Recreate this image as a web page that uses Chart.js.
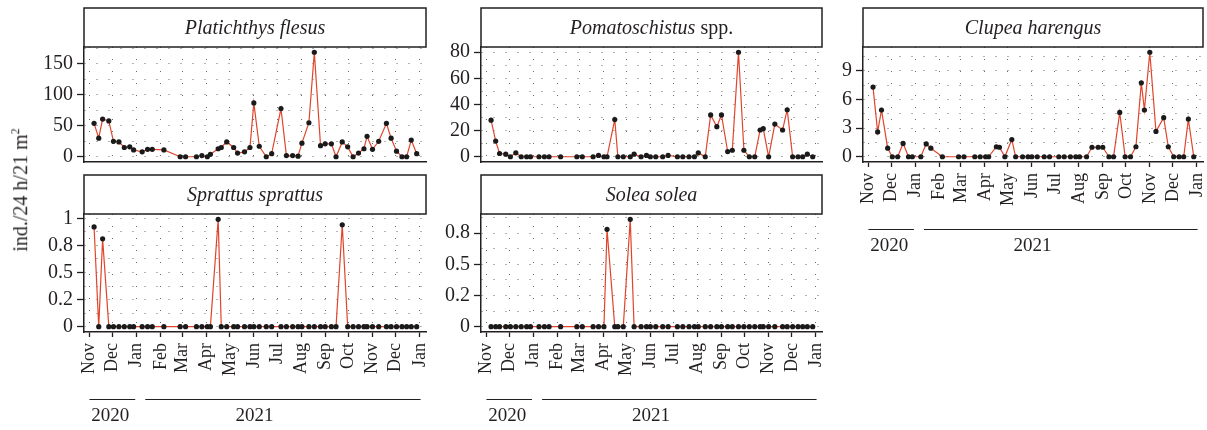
<!DOCTYPE html>
<html>
<head>
<meta charset="utf-8">
<script src="https://cdn.jsdelivr.net/npm/chart.js@4.4.1/dist/chart.umd.min.js"></script>
<style>
html,body{margin:0;padding:0;background:#fff;}
#wrap{position:relative;width:1207px;height:430px;overflow:hidden;background:#fff;}
#wrap canvas{position:absolute;left:0;top:0;}
#ylab{position:absolute;left:20px;top:190px;transform:translate(-50%,-50%) rotate(-90deg);
  font-family:"Liberation Serif","Times New Roman",serif;font-size:20px;color:#231f20;white-space:nowrap;}
#ylab sup{font-size:12px;}
</style>
</head>
<body>
<div id="wrap">
<canvas id="c1" width="1207" height="430"></canvas>
<canvas id="c2" width="1207" height="430"></canvas>
<canvas id="c3" width="1207" height="430"></canvas>
<canvas id="c4" width="1207" height="430"></canvas>
<canvas id="c5" width="1207" height="430"></canvas>
<div id="ylab">ind./24 h/21 m<sup>2</sup></div>
</div>
<script>
// ---------- data ----------
const sampleDates = [
  '2020-11-07','2020-11-13','2020-11-18','2020-11-26','2020-12-02','2020-12-09','2020-12-16','2020-12-23',
  '2020-12-28','2021-01-08','2021-01-15','2021-01-21','2021-02-05','2021-02-26','2021-03-05','2021-03-19',
  '2021-03-26','2021-04-02','2021-04-06','2021-04-16','2021-04-20','2021-04-27','2021-05-06','2021-05-11',
  '2021-05-20','2021-05-27','2021-06-01','2021-06-08','2021-06-17','2021-06-24','2021-07-06','2021-07-13',
  '2021-07-21','2021-07-28','2021-08-02','2021-08-11','2021-08-18','2021-08-26','2021-09-01','2021-09-09',
  '2021-09-15','2021-09-23','2021-09-30','2021-10-07','2021-10-14','2021-10-21','2021-10-25','2021-11-01',
  '2021-11-09','2021-11-19','2021-11-25','2021-12-02','2021-12-09','2021-12-15','2021-12-21','2021-12-28'
];
const platichthys = [54,30,61,58,25,24,15,16,11,8,12,12,11,0,0,0,2,0,4,13,15,24,15,6,8,15,87,17,0,5,78,2,2,1,22,55,169,18,21,21,0,24,16,0,6,13,33,12,25,54,30,9,0,0,27,5];
const pomatoschistus = [28,12,2.5,2,0,3,0,0,0,0,0,0,0,0,0,0,1,0,0,28.5,0,0,0,2,0,1,0,0,0,1,0,0,0,0,3,0,32,23,32,4,5,80,5,0,0,20.5,21.5,0,25,20.5,36,0,0,0,2,0];
const clupea = [7.3,2.6,4.9,0.9,0,0,1.4,0,0,0,1.35,0.9,0,0,0,0,0,0,0,1.05,1.0,0,1.8,0,0,0,0,0,0,0,0,0,0,0,0,0,1,1,1,0,0,4.65,0,0,1.05,7.75,4.9,10.95,2.65,4.1,1.05,0,0,0,3.95,0];
const sprattus = [0.92,0,0.81,0,0,0,0,0,0,0,0,0,0,0,0,0,0,0,0,0.99,0,0,0,0,0,0,0,0,0,0,0,0,0,0,0,0,0,0,0,0,0,0.94,0,0,0,0,0,0,0,0,0,0,0,0,0,0];
const solea = [0,0,0,0,0,0,0,0,0,0,0,0,0,0,0,0,0,0,0.78,0,0,0,0.86,0,0,0,0,0,0,0,0,0,0,0,0,0,0,0,0,0,0,0,0,0,0,0,0,0,0,0,0,0,0,0,0,0];

const monthTickDates = ['2020-11-01','2020-12-01','2021-01-01','2021-02-01','2021-03-01','2021-04-01','2021-05-01',
  '2021-06-01','2021-07-01','2021-08-01','2021-09-01','2021-10-01','2021-11-01','2021-12-01','2022-01-01'];
const monthTickLabels = ['Nov','Dec','Jan','Feb','Mar','Apr','May','Jun','Jul','Aug','Sep','Oct','Nov','Dec','Jan'];

const yTicksPlat = [0,50,100,150];       const yLabelsPlat = ['0','50','100','150'];
const yTicksPoma = [0,20,40,60,80];      const yLabelsPoma = ['0','20','40','60','80'];
const yTicksClup = [0,3,6,9];            const yLabelsClup = ['0','3','6','9'];
const yTicksSpra = [0,0.25,0.5,0.75,1];  const yLabelsSpra = ['0','0.2','0.5','0.8','1'];
const yTicksSole = [0,0.25,0.5,0.75];    const yLabelsSole = ['0','0.2','0.5','0.8'];

const yearLabels = ['2020','2021'];
const yearLabelDates = ['2020-11-28','2021-06-02'];
const yearLineStarts = ['2020-11-01','2021-01-12'];
const yearLineEnds = ['2020-12-30','2022-01-02'];

// ---------- helpers ----------
const DAY0 = Date.UTC(2020, 10, 1);
function toDay(s){ const p = s.split('-').map(Number); return (Date.UTC(p[0], p[1]-1, p[2]) - DAY0) / 86400000; }
const FONT = '"Liberation Serif", "Times New Roman", serif';
const INK = '#231f20';
const GRID = '#6a6a6a';
const X_MIN = -7, X_MAX = 434;

const stripPlugin = {
  id: 'strip',
  afterDraw(chart, args, opts) {
    const ctx = chart.ctx, a = chart.chartArea, h = 39;
    ctx.save();
    ctx.fillStyle = '#fff';
    ctx.fillRect(a.left, a.top - h, a.right - a.left, h);
    ctx.strokeStyle = INK; ctx.lineWidth = 1.5;
    ctx.strokeRect(a.left, a.top - h, a.right - a.left, h);
    const segs = opts.segments || [];
    const widths = []; let total = 0;
    segs.forEach(s => { ctx.font = (s[1] ? 'italic ' : '') + '20px ' + FONT; const w = ctx.measureText(s[0]).width; widths.push(w); total += w; });
    let x = (a.left + a.right) / 2 - total / 2;
    ctx.fillStyle = INK; ctx.textAlign = 'left'; ctx.textBaseline = 'middle';
    segs.forEach((s, i) => { ctx.font = (s[1] ? 'italic ' : '') + '20px ' + FONT; ctx.fillText(s[0], x, a.top - h / 2 + 1); x += widths[i]; });
    ctx.restore();
  }
};

const yearPlugin = {
  id: 'years',
  afterDraw(chart, args, opts) {
    if (!opts.show) return;
    const ctx = chart.ctx, a = chart.chartArea, xs = chart.scales.x;
    ctx.save();
    ctx.strokeStyle = INK; ctx.lineWidth = 1.2;
    ctx.fillStyle = INK; ctx.font = '19px ' + FONT; ctx.textAlign = 'center'; ctx.textBaseline = 'middle';
    yearLabels.forEach((lab, i) => {
      const y = Math.round(a.bottom + 67) + 0.5;
      ctx.beginPath();
      ctx.moveTo(xs.getPixelForValue(toDay(yearLineStarts[i])), y);
      ctx.lineTo(xs.getPixelForValue(toDay(yearLineEnds[i])), y);
      ctx.stroke();
      ctx.fillText(lab, xs.getPixelForValue(toDay(yearLabelDates[i])), a.bottom + 84);
    });
    ctx.restore();
  }
};

function makePanel(id, values, segments, yMajors, yLabels, area, showX) {
  const pts = values.map((v, i) => ({ x: toDay(sampleDates[i]), y: v }));
  const dmax = Math.max.apply(null, values);
  const yMin = -0.05 * dmax, yMax = 1.05 * dmax;
  const step = yMajors[1] - yMajors[0];
  const yAll = [];
  yMajors.forEach(v => yAll.push(v));
  for (let i = 0; i < yMajors.length; i++) { const m = yMajors[i] + step / 2; if (m <= yMax) yAll.push(m); }
  yAll.sort((p, q) => p - q);
  const isMajor = v => yMajors.some(m => Math.abs(m - v) < 1e-9);
  const monthDays = monthTickDates.map(toDay);
  const YW = 60, XH = showX ? 60 : 0;
  new Chart(document.getElementById(id), {
    type: 'line',
    data: { datasets: [{
      data: pts, borderColor: '#e0452c', borderWidth: 1.2, tension: 0,
      pointRadius: 2.6, pointBackgroundColor: '#1a1a1a', pointBorderWidth: 0, pointHoverRadius: 2.6
    }]},
    plugins: [stripPlugin, yearPlugin],
    options: {
      responsive: false, animation: false, devicePixelRatio: 1, events: [],
      layout: { padding: { left: area.left - YW, right: 1207 - area.right, top: area.top, bottom: 430 - area.bottom - XH } },
      plugins: { legend: { display: false }, tooltip: { enabled: false },
        strip: { segments: segments }, years: { show: showX } },
      scales: {
        x: {
          type: 'linear', min: X_MIN, max: X_MAX,
          afterBuildTicks: s => { s.ticks = monthDays.map(v => ({ value: v })); },
          afterFit: s => { s.height = XH; s.paddingLeft = 0; s.paddingRight = 0; },
          border: { display: true, color: INK, width: 1.5, dash: [1, 11] },
          grid: { color: GRID, lineWidth: 1, drawTicks: showX, tickLength: 5, tickColor: INK, tickWidth: 1.3 },
          ticks: { display: showX, autoSkip: false, minRotation: 90, maxRotation: 90, padding: 6,
            color: INK, font: { family: FONT, size: 18 },
            callback: (v, i) => monthTickLabels[i] }
        },
        y: {
          type: 'linear', min: yMin, max: yMax,
          afterBuildTicks: s => { s.ticks = yAll.map(v => ({ value: v })); },
          afterFit: s => { s.width = YW; s.paddingTop = 0; s.paddingBottom = 0; },
          border: { display: true, color: INK, width: 1.5, dash: [1, 11] },
          grid: { color: GRID, lineWidth: 1, tickLength: 7, tickWidth: 1.3,
            tickColor: c => (c.tick && isMajor(c.tick.value)) ? INK : 'rgba(0,0,0,0)' },
          ticks: { autoSkip: false, padding: 4, color: INK, font: { family: FONT, size: 20 },
            callback: v => { const k = yMajors.findIndex(m => Math.abs(m - v) < 1e-9); return k >= 0 ? yLabels[k] : ''; } }
        }
      }
    }
  });
}

makePanel('c1', platichthys, [['Platichthys flesus', true]], yTicksPlat, yLabelsPlat, { left: 84, right: 426, top: 47, bottom: 162 }, false);
makePanel('c2', pomatoschistus, [['Pomatoschistus', true], [' spp.', false]], yTicksPoma, yLabelsPoma, { left: 481, right: 822, top: 47, bottom: 162 }, false);
makePanel('c3', clupea, [['Clupea harengus', true]], yTicksClup, yLabelsClup, { left: 863, right: 1203, top: 47, bottom: 162 }, true);
makePanel('c4', sprattus, [['Sprattus sprattus', true]], yTicksSpra, yLabelsSpra, { left: 84, right: 426, top: 214, bottom: 332 }, true);
makePanel('c5', solea, [['Solea solea', true]], yTicksSole, yLabelsSole, { left: 481, right: 822, top: 214, bottom: 332 }, true);
</script>
</body>
</html>
